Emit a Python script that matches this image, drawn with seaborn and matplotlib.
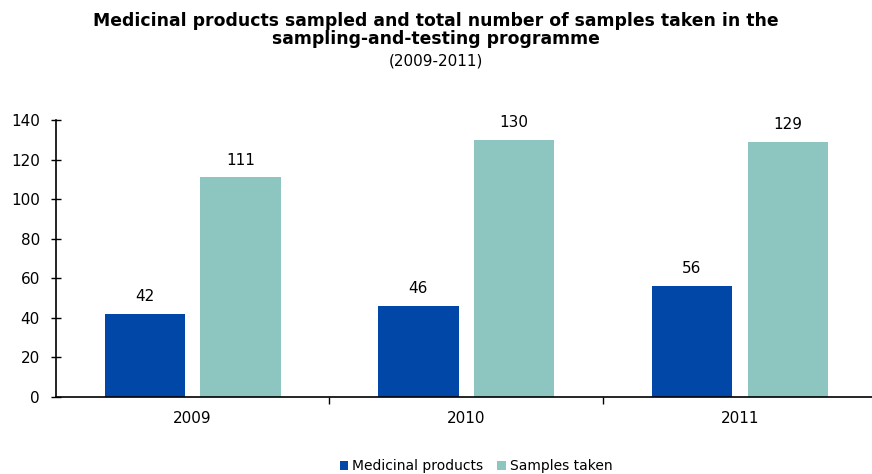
import matplotlib
matplotlib.use("Agg")
import matplotlib.pyplot as plt
import seaborn as sns
import pandas as pd
from matplotlib.ticker import FixedLocator

# data
years = ["2009", "2010", "2011"]
medicinal_products = [42, 46, 56]
samples_taken = [111, 130, 129]
series_names = ["Medicinal products", "Samples taken"]
colors = ["#0047A8", "#8DC6C0"]

df = pd.DataFrame({
    "year": years * 2,
    "value": medicinal_products + samples_taken,
    "series": [series_names[0]] * 3 + [series_names[1]] * 3,
})

sns.set_style("white")
plt.rcParams["font.family"] = ["DejaVu Sans"]
plt.rcParams["text.color"] = "black"
plt.rcParams["xtick.color"] = "black"
plt.rcParams["ytick.color"] = "black"

fig = plt.figure(figsize=(8.72, 4.74), dpi=100)
ax = fig.add_axes([0.064, 0.1624, 0.936, 0.5846])

sns.barplot(data=df, x="year", y="value", hue="series", palette=colors,
            width=0.7, gap=0.16, ax=ax, saturation=1, linewidth=0, legend=True)

for cont in ax.containers:
    ax.bar_label(cont, padding=7, fontsize=11)

ax.set_xlim(-0.5, 2.483)
ax.set_ylim(0, 140)
ax.set_yticks(range(0, 141, 20))
ax.set_xlabel("")
ax.set_ylabel("")

for s in ["top", "right"]:
    ax.spines[s].set_visible(False)
for s in ["left", "bottom"]:
    ax.spines[s].set_color("black")
    ax.spines[s].set_linewidth(1.2)

ax.tick_params(axis="y", direction="inout", length=7, width=1, labelsize=11, left=True, pad=8)
ax.tick_params(axis="x", which="major", length=0, labelsize=11, pad=10)
ax.xaxis.set_minor_locator(FixedLocator([0.5, 1.5]))
ax.tick_params(axis="x", which="minor", direction="out", length=5, width=1, bottom=True)

fig.text(0.5, 0.937, "Medicinal products sampled and total number of samples taken in the\nsampling-and-testing programme",
         ha="center", va="center", fontsize=12.4, fontweight="bold", linespacing=1.05)
fig.text(0.5, 0.872, "(2009-2011)", ha="center", va="center", fontsize=11)

ax.legend(loc="center", bbox_to_anchor=(0.546, 0.016), bbox_transform=fig.transFigure,
          ncol=2, frameon=False, fontsize=10, handlelength=0.6, handleheight=0.6,
          handletextpad=0.3, columnspacing=1.0)

fig.savefig("out.png", dpi=100)
